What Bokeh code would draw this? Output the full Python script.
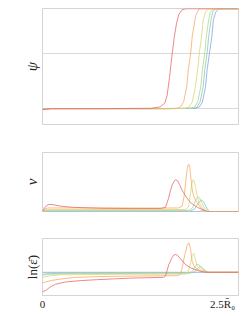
from bokeh.plotting import figure
from bokeh.layouts import column
from bokeh.models import FixedTicker, Range1d
from bokeh.embed import file_html
from bokeh.resources import INLINE

# ---------------- data ----------------
SERIES = ["blue", "teal", "green", "yellow", "orange", "red"]
COLORS = {"red": "#e86a6c", "orange": "#f6ad6a", "yellow": "#dcd777",
          "green": "#b0d68e", "teal": "#86cbb6", "blue": "#8aa2e6"}

X_TICKS = [0, 2.5]
X_TICK_LABELS = ["0", "2.5R\u0304\u2080"]

# panel 1: psi
psi_x_red = [0, 0.10, 0.74, 1.38, 1.50, 1.56, 1.59, 1.62, 1.65, 1.68, 1.71, 1.74, 1.78, 1.83, 2.5]
psi_red = [-0.01, 0.0, 0.0, 0.003, 0.015, 0.05, 0.12, 0.28, 0.47, 0.64, 0.77, 0.85, 0.89, 0.90, 0.90]
psi_x_orange = [0, 0.1, 1.38, 1.71, 1.76, 1.80, 1.84, 1.86, 1.89, 1.91, 1.94, 1.96, 2.00, 2.5]
psi_orange = [-0.008, 0, 0, 0.003, 0.015, 0.06, 0.2, 0.35, 0.5, 0.65, 0.78, 0.85, 0.9, 0.9]
psi_x_yellow = [0, 0.1, 1.5, 1.82, 1.87, 1.91, 1.95, 1.98, 2.00, 2.03, 2.05, 2.08, 2.12, 2.5]
psi_yellow = [-0.006, 0, 0, 0.003, 0.015, 0.06, 0.2, 0.35, 0.5, 0.65, 0.8, 0.87, 0.9, 0.9]
psi_x_green = [0, 0.1, 1.57, 1.89, 1.94, 1.98, 2.02, 2.04, 2.07, 2.09, 2.12, 2.14, 2.18, 2.5]
psi_green = [-0.005, 0, 0, 0.003, 0.015, 0.06, 0.2, 0.35, 0.5, 0.65, 0.8, 0.87, 0.9, 0.9]
psi_x_teal = [0, 0.1, 1.61, 1.93, 1.97, 2.01, 2.05, 2.07, 2.10, 2.12, 2.15, 2.17, 2.21, 2.5]
psi_teal = [-0.004, 0, 0, 0.003, 0.015, 0.06, 0.2, 0.35, 0.5, 0.65, 0.8, 0.87, 0.9, 0.9]
psi_x_blue = [0, 0.1, 1.63, 1.95, 2.00, 2.04, 2.08, 2.10, 2.13, 2.16, 2.18, 2.21, 2.25, 2.5]
psi_blue = [-0.003, 0, 0, 0.003, 0.015, 0.06, 0.2, 0.35, 0.5, 0.65, 0.8, 0.87, 0.9, 0.9]

# panel 2: nu
nu_x_red = [0, 0.026, 0.051, 0.080, 0.140, 0.230, 0.395, 0.740, 1.122, 1.505, 1.569, 1.607,
            1.633, 1.658, 1.684, 1.697, 1.722, 1.747, 1.773, 1.798, 1.837, 1.888, 1.977, 2.054,
            2.105, 2.5]
nu_red = [0, 0.06, 0.10, 0.12, 0.115, 0.09, 0.07, 0.055, 0.05, 0.05, 0.07, 0.22,
          0.36, 0.46, 0.52, 0.54, 0.52, 0.46, 0.38, 0.32, 0.24, 0.15, 0.07, 0.025,
          0.0, 0]
nu_x_orange = [0, 0.026, 0.064, 0.230, 0.740, 1.378, 1.735, 1.780, 1.805, 1.824, 1.843, 1.856,
               1.866, 1.878, 1.890, 1.909, 1.926, 1.952, 2.015, 2.079, 2.5]
nu_orange = [0, 0.04, 0.06, 0.06, 0.06, 0.058, 0.06, 0.09, 0.25, 0.47, 0.70, 0.78,
             0.80, 0.75, 0.60, 0.38, 0.27, 0.19, 0.07, 0, 0]
nu_x_yellow = [0, 0.026, 0.064, 1.378, 1.824, 1.862, 1.888, 1.904, 1.922, 1.939, 1.952, 1.964,
               1.981, 2.003, 2.037, 2.079, 2.5]
nu_yellow = [0, 0.025, 0.035, 0.033, 0.035, 0.08, 0.30, 0.47, 0.54, 0.50, 0.41, 0.32,
             0.22, 0.14, 0.07, 0.0, 0]
nu_x_green = [0, 0.038, 1.378, 1.875, 1.913, 1.939, 1.964, 1.984, 2.003, 2.028, 2.054, 2.079,
              2.111, 2.5]
nu_green = [0, 0.02, 0.02, 0.02, 0.06, 0.14, 0.22, 0.25, 0.23, 0.16, 0.09, 0.04, 0, 0]
nu_x_teal = [0, 0.038, 1.888, 1.939, 1.977, 2.003, 2.028, 2.054, 2.079, 2.105, 2.130, 2.5]
nu_teal = [0, 0.01, 0.01, 0.04, 0.12, 0.17, 0.19, 0.17, 0.10, 0.04, 0.0, 0]
nu_x_blue = [0, 1.99, 2.054, 2.117, 2.5]
nu_blue = [0, 0, 0.015, 0, 0]

# panel 3: ln(eps)
le_x_red = [0, 0.038, 0.102, 0.166, 0.293, 0.485, 0.702, 1.122, 1.543, 1.569, 1.611, 1.654,
            1.677, 1.697, 1.722, 1.760, 1.824, 1.888, 1.973, 2.058, 2.105, 2.5]
le_red = [-1.0, -0.95, -0.75, -0.62, -0.5, -0.43, -0.38, -0.3, -0.26, -0.18, 0.40, 0.77,
          0.90, 0.93, 0.88, 0.70, 0.40, 0.23, 0.10, 0.02, 0, 0]
le_x_orange = [0, 0.102, 0.230, 0.395, 0.702, 1.250, 1.735, 1.760, 1.782, 1.815, 1.846, 1.866,
               1.888, 1.909, 1.930, 1.952, 2.015, 2.079, 2.5]
le_orange = [-0.55, -0.43, -0.35, -0.27, -0.22, -0.19, -0.17, -0.10, 0.23, 0.90, 1.40, 1.53,
             1.23, 0.57, 0.35, 0.23, 0.07, 0, 0]
le_x_yellow = [0, 0.102, 0.230, 0.740, 1.378, 1.824, 1.856, 1.888, 1.909, 1.930, 1.952, 1.973,
               2.015, 2.079, 2.105, 2.5]
le_yellow = [-0.26, -0.18, -0.13, -0.11, -0.10, -0.09, 0.0, 0.48, 0.87, 0.98, 0.65, 0.32,
             0.15, 0.02, 0, 0]
le_x_green = [0, 0.102, 0.357, 1.378, 1.875, 1.913, 1.945, 1.973, 1.996, 2.022, 2.054, 2.092,
              2.117, 2.5]
le_green = [-0.15, -0.10, -0.07, -0.05, -0.05, 0.05, 0.30, 0.43, 0.38, 0.25, 0.12, 0.03, 0, 0]
le_x_teal = [0, 0.102, 0.485, 1.888, 1.939, 1.977, 2.003, 2.028, 2.060, 2.092, 2.130, 2.5]
le_teal = [-0.10, -0.06, -0.04, -0.03, 0.02, 0.18, 0.30, 0.27, 0.15, 0.05, 0, 0]
le_x_blue = [0, 2.5]
le_blue = [0, 0]

PSI = {"red": (psi_x_red, psi_red), "orange": (psi_x_orange, psi_orange),
       "yellow": (psi_x_yellow, psi_yellow), "green": (psi_x_green, psi_green),
       "teal": (psi_x_teal, psi_teal), "blue": (psi_x_blue, psi_blue)}
NU = {"red": (nu_x_red, nu_red), "orange": (nu_x_orange, nu_orange),
      "yellow": (nu_x_yellow, nu_yellow), "green": (nu_x_green, nu_green),
      "teal": (nu_x_teal, nu_teal), "blue": (nu_x_blue, nu_blue)}
LE = {"red": (le_x_red, le_red), "orange": (le_x_orange, le_orange),
      "yellow": (le_x_yellow, le_yellow), "green": (le_x_green, le_green),
      "teal": (le_x_teal, le_teal), "blue": (le_x_blue, le_blue)}

SERIF = "Liberation Serif"
FRAME = "#d4d4d4"


def make_fig(height, top, bottom, yr, label, italic, lsize):
    p = figure(width=240, height=height, x_range=Range1d(0, 2.5), y_range=Range1d(*yr),
               output_backend="svg", toolbar_location=None,
               min_border_left=42, min_border_right=2,
               min_border_top=top, min_border_bottom=bottom)
    p.outline_line_color = FRAME
    p.outline_line_alpha = 1.0
    p.background_fill_color = None
    p.border_fill_color = None
    p.xgrid.visible = False
    p.ygrid.visible = False
    ya = p.yaxis[0]
    ya.ticker = FixedTicker(ticks=[])
    ya.axis_line_color = None
    ya.major_tick_line_color = None
    ya.minor_tick_line_color = None
    ya.major_tick_out = 0
    ya.major_label_text_font_size = "0px"
    ya.axis_label = label
    ya.axis_label_text_font = SERIF
    ya.axis_label_text_font_size = lsize
    ya.axis_label_text_font_style = "italic" if italic else "normal"
    ya.axis_label_text_color = "#222222"
    ya.axis_label_standoff = 3
    return p


def draw(p, data):
    for s in SERIES:
        xs, ys = data[s]
        p.line(xs, ys, line_color=COLORS[s], line_width=1, line_alpha=0.8)


p1 = make_fig(128, 8, 4, (-0.143, 0.902), "\u03c8", True, "15px")
p1.xaxis.visible = False
p1.ygrid.visible = True
p1.ygrid.ticker = FixedTicker(ticks=[0, 0.5])
p1.ygrid.grid_line_color = "#d9d9d9"
draw(p1, PSI)

p2 = make_fig(87, 24, 4, (0, 1.0), "\u03bd", True, "15px")
p2.xaxis.visible = False
draw(p2, NU)

p3 = make_fig(97, 23, 4, (-1.2, 1.75), "ln(\u03b5\u0304)", False, "13px")
xa = p3.xaxis[0]
xa.ticker = FixedTicker(ticks=X_TICKS)
xa.major_label_overrides = {X_TICKS[0]: X_TICK_LABELS[0],
                            X_TICKS[1]: X_TICK_LABELS[1] + "\u2007"}
xa.axis_line_color = None
xa.major_tick_line_color = None
xa.minor_tick_line_color = None
xa.major_tick_out = 0
xa.major_tick_in = 0
xa.major_label_standoff = 2
xa.major_label_text_font = SERIF
xa.major_label_text_font_size = "11px"
xa.major_label_text_color = "#222222"
draw(p3, LE)

layout = column(p1, p2, p3, spacing=0)
open("out.html", "w").write(file_html(layout, INLINE))
